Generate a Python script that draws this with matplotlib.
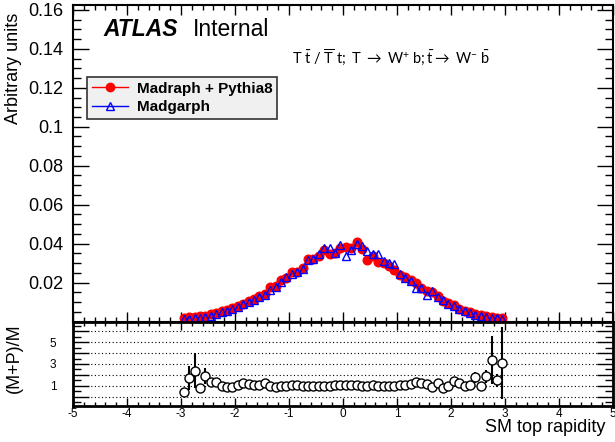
import matplotlib
matplotlib.use("Agg")
import matplotlib.pyplot as plt
import numpy as np
from matplotlib.ticker import MultipleLocator, FuncFormatter, FixedLocator
from matplotlib.lines import Line2D

plt.rcParams['font.family'] = ['Liberation Sans', 'DejaVu Sans']
plt.rcParams['mathtext.fontset'] = 'custom'
plt.rcParams['mathtext.rm'] = 'Lato'
plt.rcParams['mathtext.it'] = 'Lato:italic'
plt.rcParams['mathtext.bf'] = 'Lato:bold'

# ---- data ----
rapidity = np.round(np.linspace(-2.95, 2.95, 60), 2)   # bin centres (60 bins, -3..3)

madgraph_pythia8 = [
    0.0019, 0.0021, 0.0023, 0.0026, 0.0030, 0.0036, 0.0044, 0.0052, 0.0059, 0.0068,
    0.0081, 0.0090, 0.0104, 0.0114, 0.0133, 0.0140, 0.0175, 0.0180, 0.0214, 0.0224,
    0.0252, 0.0252, 0.0276, 0.0320, 0.0322, 0.0336, 0.0367, 0.0345, 0.0350, 0.0378,
    0.0385, 0.0378, 0.0410, 0.0370, 0.0318, 0.0335, 0.0305, 0.0300, 0.0284, 0.0262,
    0.0238, 0.0226, 0.0212, 0.0200, 0.0174, 0.0156, 0.0150, 0.0130, 0.0106, 0.0097,
    0.0083, 0.0066, 0.0054, 0.0048, 0.0037, 0.0031, 0.0027, 0.0022, 0.0019, 0.0017]

madgraph = [
    0.0012, 0.0014, 0.0016, 0.0019, 0.0024, 0.0030, 0.0037, 0.0048, 0.0055, 0.0066,
    0.0076, 0.0088, 0.0098, 0.0112, 0.0124, 0.0138, 0.0160, 0.0178, 0.0205, 0.0226,
    0.0246, 0.0255, 0.0270, 0.0318, 0.0322, 0.0345, 0.0375, 0.0378, 0.0352, 0.0392,
    0.0338, 0.0366, 0.0400, 0.0388, 0.0360, 0.0348, 0.0345, 0.0312, 0.0300, 0.0295,
    0.0246, 0.0222, 0.0207, 0.0170, 0.0172, 0.0135, 0.0158, 0.0128, 0.0112, 0.0092,
    0.0078, 0.0064, 0.0052, 0.0042, 0.0032, 0.0028, 0.0024, 0.0019, 0.0016, 0.0014]

ratio = [
    0.40, 1.72, 2.38, 0.80, 1.90, 1.35, 1.32, 0.95, 0.88, 0.86,
    1.12, 1.26, 1.20, 1.06, 1.04, 1.28, 0.94, 0.90, 1.00, 1.02,
    1.05, 1.06, 1.02, 1.00, 1.00, 0.95, 1.00, 0.96, 1.04, 1.06,
    1.10, 1.06, 1.04, 1.02, 0.96, 1.06, 1.00, 0.96, 1.00, 1.00,
    1.06, 1.10, 1.20, 1.38, 1.22, 1.18, 0.88, 1.30, 0.80, 1.02,
    1.42, 1.28, 0.96, 1.10, 1.78, 1.00, 1.86, 3.38, 1.50, 3.08]

ratio_err = [
    0.20, 1.10, 1.60, 0.30, 0.75, 0.35, 0.30, 0.20, 0.18, 0.15,
    0.12, 0.12, 0.10, 0.10, 0.08, 0.08, 0.07, 0.06, 0.06, 0.05,
    0.05, 0.05, 0.05, 0.04, 0.04, 0.04, 0.04, 0.04, 0.04, 0.04,
    0.04, 0.04, 0.04, 0.04, 0.04, 0.04, 0.04, 0.04, 0.05, 0.05,
    0.05, 0.05, 0.06, 0.06, 0.07, 0.07, 0.08, 0.09, 0.10, 0.12,
    0.14, 0.16, 0.20, 0.25, 0.50, 0.35, 0.60, 2.20, 0.60, 3.30]

legend_labels = ["Madraph + Pythia8", "Madgarph"]

# ---- figure ----
fig = plt.figure(figsize=(6.15, 4.42), dpi=100)
W, H = 615.0, 442.0
x0, x1 = 73, 613
ax = fig.add_axes([x0 / W, 1 - 321.5 / H, (x1 - x0) / W, (321.5 - 5) / H])
axr = fig.add_axes([x0 / W, 1 - 406 / H, (x1 - x0) / W, (406 - 322) / H])

# main panel
ax.plot(rapidity, madgraph_pythia8, linestyle='none', marker='o', ms=6.2,
        color='red', mec='red', zorder=3)
ax.plot(rapidity, madgraph, linestyle='none', marker='^', ms=6.2,
        mfc='none', mec='blue', mew=1.0, zorder=4)
ax.set_xlim(-5, 5)
ax.set_ylim(0, 0.1625)
ax.yaxis.set_major_locator(FixedLocator([0.02, 0.04, 0.06, 0.08, 0.10, 0.12, 0.14, 0.16]))
ax.yaxis.set_minor_locator(MultipleLocator(0.005))
ax.yaxis.set_major_formatter(FuncFormatter(lambda v, p: f"{v:g}"))
ax.xaxis.set_major_locator(MultipleLocator(1))
ax.xaxis.set_minor_locator(MultipleLocator(0.2))
ax.tick_params(axis='x', which='both', labelbottom=False)
ax.tick_params(which='both', direction='in', top=True, right=True, width=1.0)
ax.tick_params(axis='y', which='major', length=11.5, labelsize=13, pad=7)
ax.tick_params(axis='y', which='minor', length=5.8)
ax.tick_params(axis='x', which='major', length=7.2)
ax.tick_params(axis='x', which='minor', length=3.6)
for s in ax.spines.values():
    s.set_linewidth(1.5)

fig.text(14 / W, 1 - 68 / H, "Arbitrary units", rotation=90, fontsize=13,
         ha='center', va='center')

ax.text(0.0556, 0.902, "ATLAS", transform=ax.transAxes, fontsize=16.5,
        fontweight='bold', fontstyle='italic', va='baseline', ha='left')
ax.text(0.222, 0.902, "Internal", transform=ax.transAxes, fontsize=16.5,
        va='baseline', ha='left')
ax.text(0.59, 0.836,
        r"$\mathrm{T\ \bar{t}\ /\ \overline{T}\ t;\ T\ \rightarrow\ W^{+}\ b;\bar{t}\rightarrow\ W^{-}\ \bar{b}}$",
        transform=ax.transAxes, fontsize=10.5, ha='center', va='center')

handles = [Line2D([], [], color='red', marker='o', ms=6, lw=1),
           Line2D([], [], color='blue', marker='^', ms=6, mfc='none', lw=1)]
leg = ax.legend(handles, legend_labels, loc='upper left', bbox_to_anchor=(0.026, 0.772),
                borderaxespad=0, frameon=True, fancybox=False, framealpha=1,
                facecolor='#f0f0f0', edgecolor='#333333',
                prop={'weight': 'bold', 'size': 11}, handlelength=2.4,
                handletextpad=0.55, labelspacing=0.28, borderpad=0.3)
leg.get_frame().set_linewidth(1.2)

# ratio panel
for g in range(0, 7):
    axr.axhline(g, color='black', lw=0.8, ls=(0, (1, 2.2)), zorder=1)
axr.errorbar(rapidity, ratio, yerr=ratio_err, fmt='o', ms=6.5, mfc='white',
             mec='black', mew=1.0, ecolor='black', elinewidth=1.5, capsize=0, zorder=3)
axr.set_xlim(-5, 5)
axr.set_ylim(-0.85, 6.85)
axr.xaxis.set_major_locator(MultipleLocator(1))
axr.xaxis.set_minor_locator(MultipleLocator(0.2))
axr.yaxis.set_major_locator(MultipleLocator(1))
axr.yaxis.set_minor_locator(MultipleLocator(0.5))
axr.yaxis.set_major_formatter(FuncFormatter(lambda v, p: f"{int(round(v))}" if int(round(v)) in (1, 3, 5) else ""))
axr.xaxis.set_major_formatter(FuncFormatter(lambda v, p: f"{int(round(v))}"))
axr.tick_params(which='both', direction='in', top=True, right=True, width=1.0)
axr.tick_params(axis='y', which='major', length=11.5, labelsize=8.5, pad=12)
axr.tick_params(axis='y', which='minor', length=5.8)
axr.tick_params(axis='x', which='major', length=6, labelsize=8.5, pad=1.5)
axr.tick_params(axis='x', which='minor', length=3)
for s in axr.spines.values():
    s.set_linewidth(2.0)

fig.text(14 / W, 1 - 358 / H, "(M+P)/M", rotation=90, fontsize=13,
         ha='center', va='center')
fig.text(605 / W, 1 - 419 / H, "SM top rapidity", fontsize=13, ha='right', va='top')

fig.savefig("out.png", dpi=100)
